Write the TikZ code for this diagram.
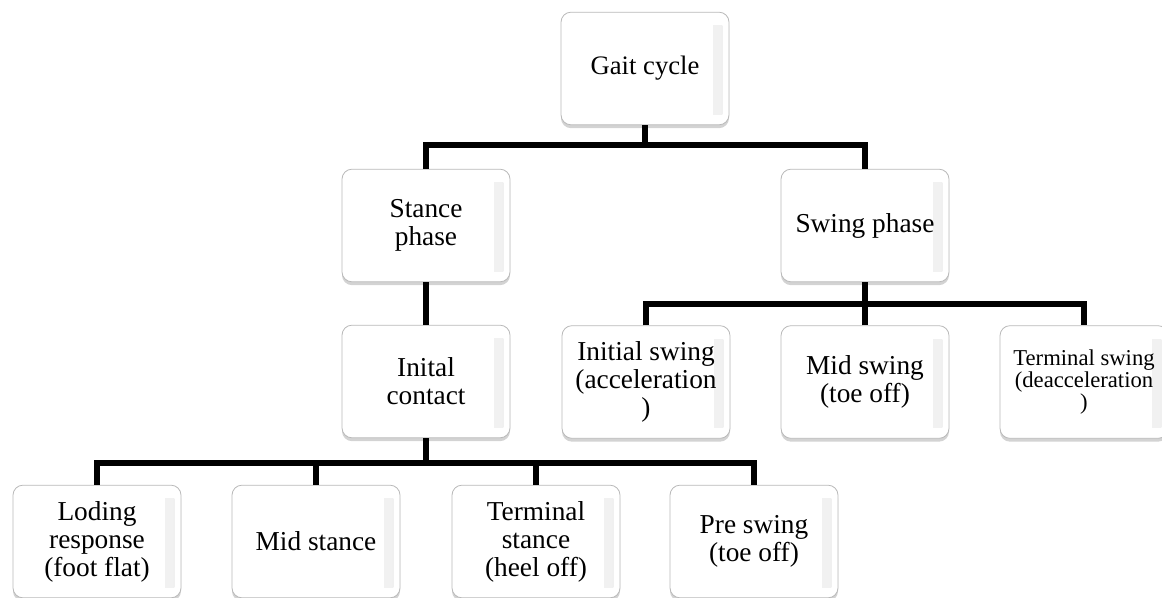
\documentclass[tikz,border=0pt]{standalone}
\usepackage{fontspec}
\setmainfont{Liberation Serif}
\usetikzlibrary{positioning,calc,shadows}
\tikzset{
    phase/.style={draw=gray!55, line width=0.6pt, fill=white, rounded corners=7.5pt,
        minimum width=126pt, minimum height=84.5pt, align=center, inner sep=2pt,
        font=\fontsize{20.5}{21}\selectfont,
        drop shadow={opacity=0.35, shadow xshift=0pt, shadow yshift=-2.5pt},
        path picture={\shade[sharp corners, left color=white, right color=gray!12]
            ($(path picture bounding box.north east)+(-12pt,-10pt)$) rectangle
            ($(path picture bounding box.south east)+(-5pt,8pt)$);}},
    link/.style={line width=3.8pt}
}

\begin{document}
\begin{tikzpicture}[x=0.75pt, y=-0.75pt]
    \useasboundingbox (0,0) rectangle (1162,597);

    % Top levels
    \node[phase, font=\fontsize{20}{21}\selectfont] (gait) at (645,68.5) {Gait cycle};
    \node[phase] (stance) at (426,225.5) {Stance\\phase};
    \node[phase] (swing) at (865,225.5) {Swing phase};
    \node[phase] (contact) at (426,381.5) {Inital\\contact};

    % Swing sub-phases
    \node[phase] (iswing) at (646,382) {Initial swing\\(acceleration\\)};
    \node[phase] (mswing) at (865,382) {Mid swing\\(toe off)};
    \node[phase, font=\fontsize{17}{14.5}\selectfont] (tswing) at (1084,382) {Terminal swing\\(deacceleration\\)};

    % Stance sub-phases
    \foreach \n/\x/\t in {load/97/{Loding\\response\\(foot flat)},
                          midst/316/{Mid stance},
                          term/536/{Terminal\\stance\\(heel off)},
                          pre/754/{Pre swing\\(toe off)}} {
        \node[phase] (\n) at (\x,541.5) {\t};
    }

    % Connectors
    \coordinate (topbus) at (645,145);
    \draw[link] (gait.south) -- (topbus);
    \draw[link] (stance.north) |- (topbus) -| (swing.north);

    \coordinate (swingbus) at (865,304);
    \draw[link] (swing.south) -- (swingbus);
    \draw[link] (iswing.north) |- (swingbus) -| (tswing.north);
    \draw[link] (mswing.north) -- (swingbus);

    \draw[link] (stance.south) -- (contact.north);
    \coordinate (lowbus) at (426,463);
    \draw[link] (contact.south) -- (lowbus);
    \draw[link] (load.north) |- (lowbus) -| (pre.north);
    \foreach \n in {midst,term} {
        \draw[link] (\n.north) -- (\n.north |- lowbus);
    }
\end{tikzpicture}
\end{document}
